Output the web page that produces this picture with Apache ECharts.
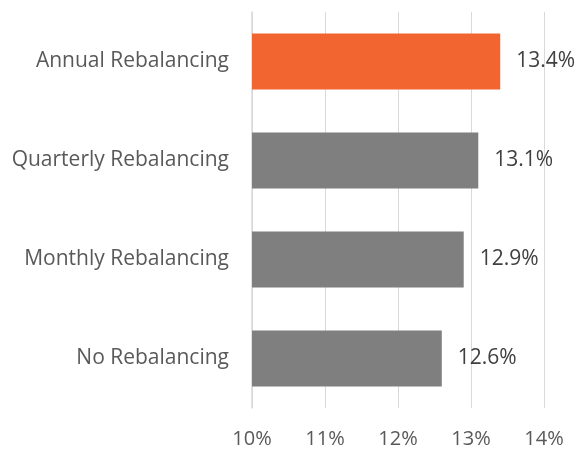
<!DOCTYPE html>
<html><head><meta charset="utf-8">
<script src="https://cdn.jsdelivr.net/npm/echarts@6/dist/echarts.min.js"></script>
<style>html,body{margin:0;padding:0;background:#fff}#c{width:576px;height:449px}</style>
</head><body><div id="c"></div>
<script>
const categories = ["No Rebalancing", "Monthly Rebalancing", "Quarterly Rebalancing", "Annual Rebalancing"];
const values = [12.6, 12.9, 13.1, 13.4];
const barColors = ["#7f7f7f", "#7f7f7f", "#7f7f7f", "#f26531"];
const xTicks = [10, 11, 12, 13, 14];

const font = "Open Sans, sans-serif";
const chart = echarts.init(document.getElementById('c'), null, {renderer: 'canvas'});
chart.setOption({
  animation: false,
  grid: {left: 252, right: 32, top: 12, bottom: 41, containLabel: false},
  xAxis: {
    type: 'value', min: xTicks[0], max: xTicks[xTicks.length - 1], interval: 1,
    axisLine: {show: false}, axisTick: {show: false},
    splitLine: {show: true, lineStyle: {color: '#d9d9d9', width: 1}},
    axisLabel: {formatter: v => v + '%', color: '#595959', fontSize: 20, fontFamily: font, margin: 21}
  },
  yAxis: {
    type: 'category', data: categories,
    axisLine: {show: true, lineStyle: {color: '#d9d9d9', width: 1.5}},
    axisTick: {show: false},
    axisLabel: {color: '#595959', fontSize: 21, fontFamily: font, margin: 23}
  },
  series: [{
    type: 'bar',
    barWidth: '56.6%',
    data: values.map((v, i) => ({value: v, itemStyle: {color: barColors[i]}})),
    label: {show: true, position: 'right', distance: 16, formatter: p => p.value.toFixed(1) + '%',
      color: '#404040', fontSize: 21, fontFamily: font}
  }]
});
</script></body></html>
